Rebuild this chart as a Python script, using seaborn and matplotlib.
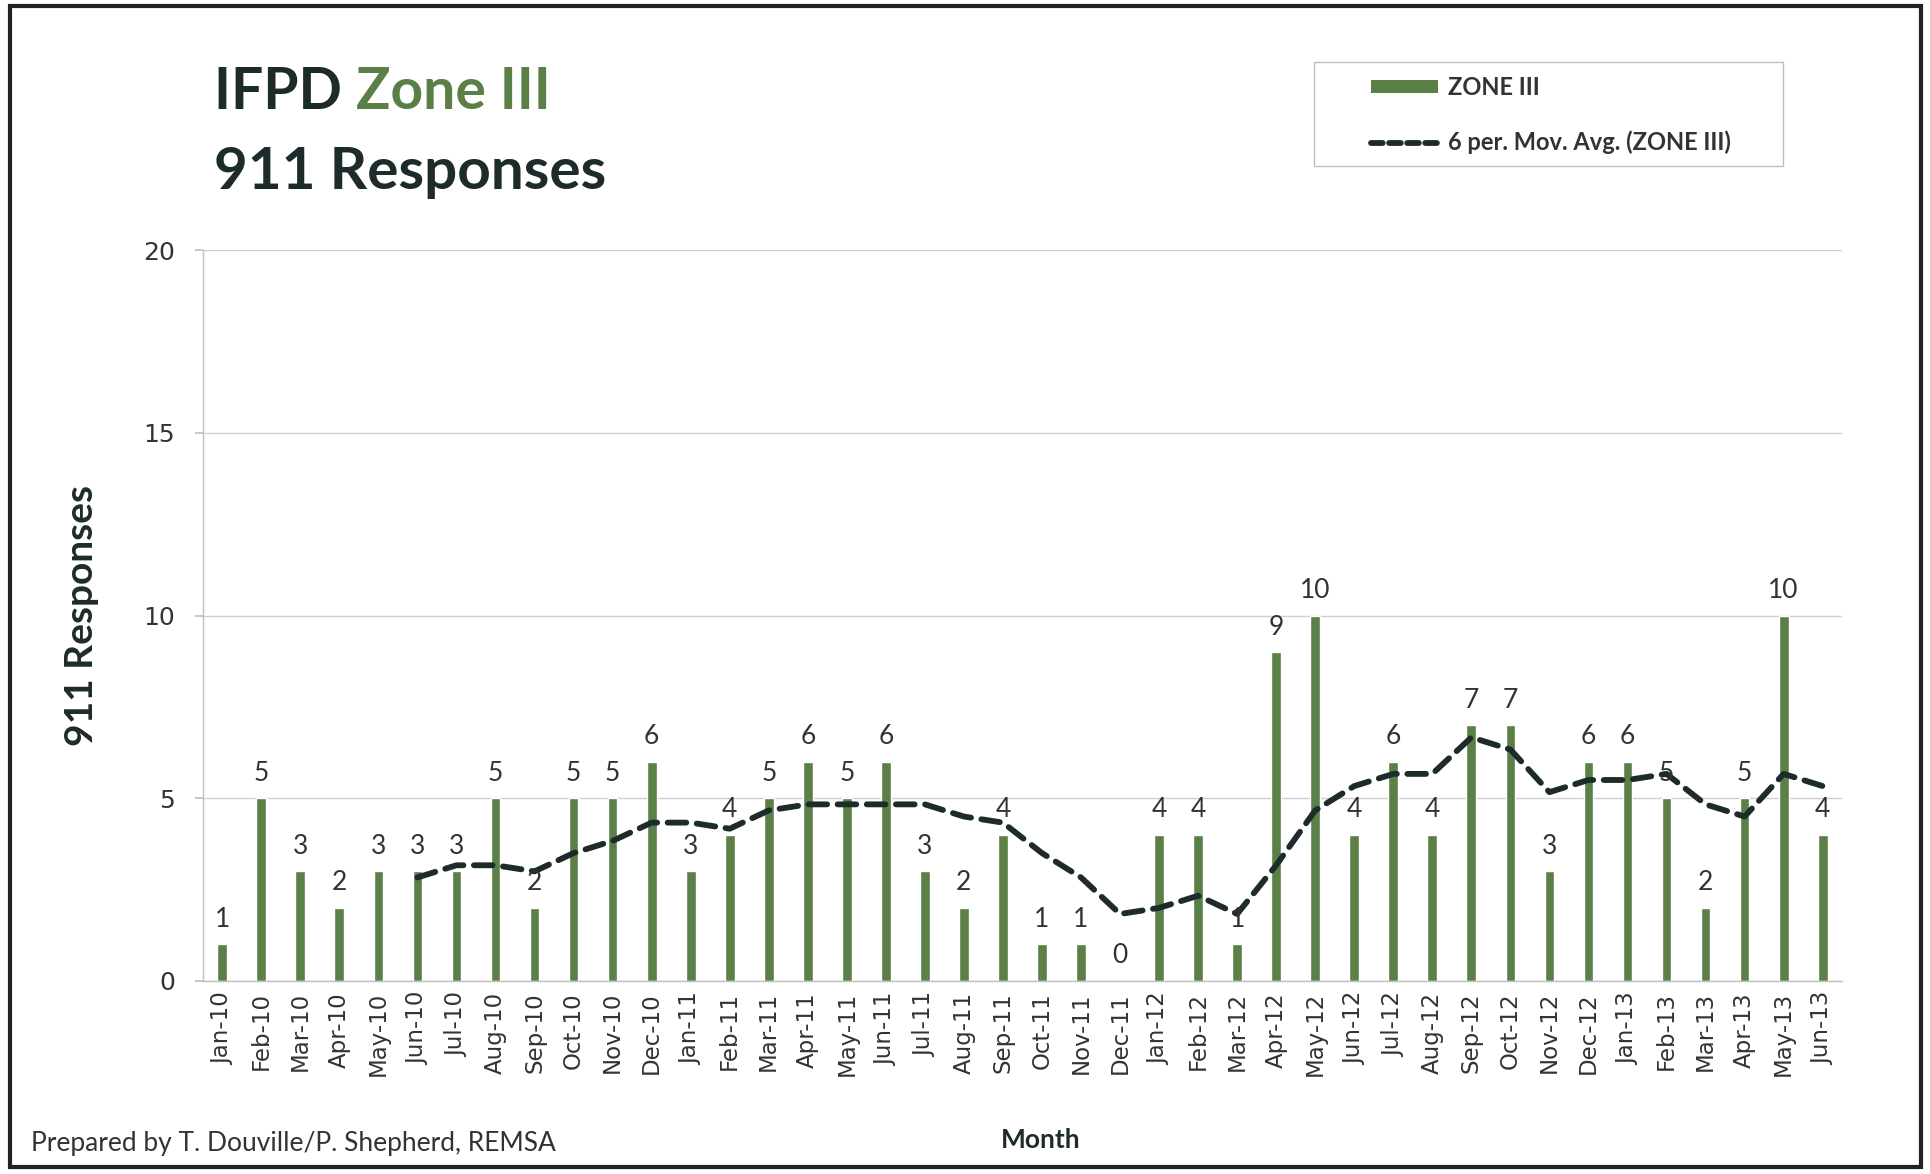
import numpy as np
import pandas as pd
import matplotlib
matplotlib.use("Agg")
import matplotlib.pyplot as plt
import seaborn as sns
from matplotlib.patches import Rectangle, Patch
from matplotlib.lines import Line2D
from matplotlib.ticker import FixedLocator

months = ["Jan-10", "Feb-10", "Mar-10", "Apr-10", "May-10", "Jun-10", "Jul-10", "Aug-10",
          "Sep-10", "Oct-10", "Nov-10", "Dec-10", "Jan-11", "Feb-11", "Mar-11", "Apr-11",
          "May-11", "Jun-11", "Jul-11", "Aug-11", "Sep-11", "Oct-11", "Nov-11", "Dec-11",
          "Jan-12", "Feb-12", "Mar-12", "Apr-12", "May-12", "Jun-12", "Jul-12", "Aug-12",
          "Sep-12", "Oct-12", "Nov-12", "Dec-12", "Jan-13", "Feb-13", "Mar-13", "Apr-13",
          "May-13", "Jun-13"]
zone3 = [1, 5, 3, 2, 3, 3, 3, 5, 2, 5, 5, 6, 3, 4, 5, 6, 5, 6, 3, 2, 4, 1, 1, 0,
         4, 4, 1, 9, 10, 4, 6, 4, 7, 7, 3, 6, 6, 5, 2, 5, 10, 4]
y_ticks = [0, 5, 10, 15, 20]

GREEN = "#5a7f47"
DARK = "#1e2b2b"
TEXT = "#333333"

df = pd.DataFrame({"Month": months, "ZONE III": zone3})
df["pos"] = np.arange(len(df))
df["mavg"] = df["ZONE III"].rolling(6).mean()

sns.set_theme(style="white")
plt.rcParams["font.family"] = ["DejaVu Sans"]

fig = plt.figure(figsize=(19.31, 11.74), dpi=100)
fig.patch.set_facecolor("white")
ax = fig.add_axes([0.105, 0.1644, 0.849, 0.6226])

sns.barplot(data=df, x="Month", y="ZONE III", color=GREEN, width=0.25,
            saturation=1, ax=ax, zorder=2)
sns.lineplot(x=df["pos"], y=df["mavg"], ax=ax, color=DARK, lw=4.2,
             zorder=3)
line = ax.lines[-1]
line.set_dashes((3.2, 1.8))
line.set_dash_capstyle("round")

# data labels
for i, v in enumerate(df["ZONE III"]):
    ax.annotate(str(v), (i, v), xytext=(0, 9), textcoords="offset points",
                ha="center", va="bottom", fontsize=19, color=TEXT,
                family="Lato", zorder=4)

ax.set_xlim(-0.5, len(months) - 0.5)
ax.set_ylim(0, 20)
ax.set_yticks(y_ticks)
ax.yaxis.grid(True, color="#d0d0d0", lw=1)
ax.xaxis.grid(False)
for s in ["top", "right"]:
    ax.spines[s].set_visible(False)
ax.spines["left"].set_color("#bfbfbf")
ax.spines["bottom"].set_color("#bfbfbf")
ax.spines["left"].set_linewidth(1)
ax.spines["bottom"].set_linewidth(1)

ax.set_xticks(np.arange(len(months)))
ax.set_xticklabels(months, rotation=90, fontsize=16.5, color=TEXT)
ax.xaxis.set_minor_locator(FixedLocator(np.arange(len(months) + 1) - 0.5))
ax.tick_params(axis="x", which="major", length=0, pad=8)
ax.tick_params(axis="x", which="minor", length=7, color="#bfbfbf", width=1,
               direction="inout")
ax.tick_params(axis="y", which="major", length=6, color="#bfbfbf", labelsize=18,
               labelcolor=TEXT, pad=14, left=True)

ax.set_xlabel("")
ax.set_ylabel("911 Responses", fontsize=28, fontweight="bold", color=DARK,
              family="Lato", labelpad=32)

# titles
fig.text(0.111, 0.921, "IFPD ", fontsize=41, fontweight="bold", color=DARK,
         family="Lato", va="center", ha="left")
t1 = fig.texts[-1]
fig.canvas.draw()
bb = t1.get_window_extent()
fig.text(bb.x1 / fig.bbox.width, 0.921, "Zone III", fontsize=41, fontweight="bold",
         color=GREEN, family="Lato", va="center", ha="left")
fig.text(0.111, 0.853, "911 Responses", fontsize=42, fontweight="bold", color=DARK,
         family="Lato", va="center", ha="left")

fig.text(0.539, 0.029, "Month", fontsize=19, fontweight="bold", color=DARK,
         family="Lato", ha="center", va="center")
fig.text(0.016, 0.026, "Prepared by T. Douville/P. Shepherd, REMSA", fontsize=19,
         color=TEXT, family="Lato", ha="left", va="center")

# legend
handles = [Patch(facecolor=GREEN, edgecolor="none", label="ZONE III"),
           Line2D([0], [0], color=DARK, lw=4.2, dashes=(2.0, 1.1),
                  dash_capstyle="round", label="6 per. Mov. Avg. (ZONE III)")]
leg = fig.legend(handles=handles, loc="upper left",
                 bbox_to_anchor=(1371 / 1931, 1 - 76 / 1174), frameon=False,
                 prop={"family": "Lato", "size": 17, "weight": "bold"},
                 handlelength=2.85, handleheight=0.45, labelspacing=1.35,
                 borderpad=0, borderaxespad=0, handletextpad=0.4)
for t in leg.get_texts():
    t.set_color(TEXT)
fig.patches.append(Rectangle((1314 / 1931, 1 - 166 / 1174), (1783 - 1314) / 1931,
                             (166 - 62) / 1174, transform=fig.transFigure,
                             fill=False, edgecolor="#bfbfbf", lw=1, zorder=5))

# outer border
fig.patches.append(Rectangle((0.005, 0.006), 0.990, 0.989, transform=fig.transFigure,
                             fill=False, edgecolor="#222222", lw=3, zorder=10))

fig.savefig("out.png", dpi=100, facecolor="white")
